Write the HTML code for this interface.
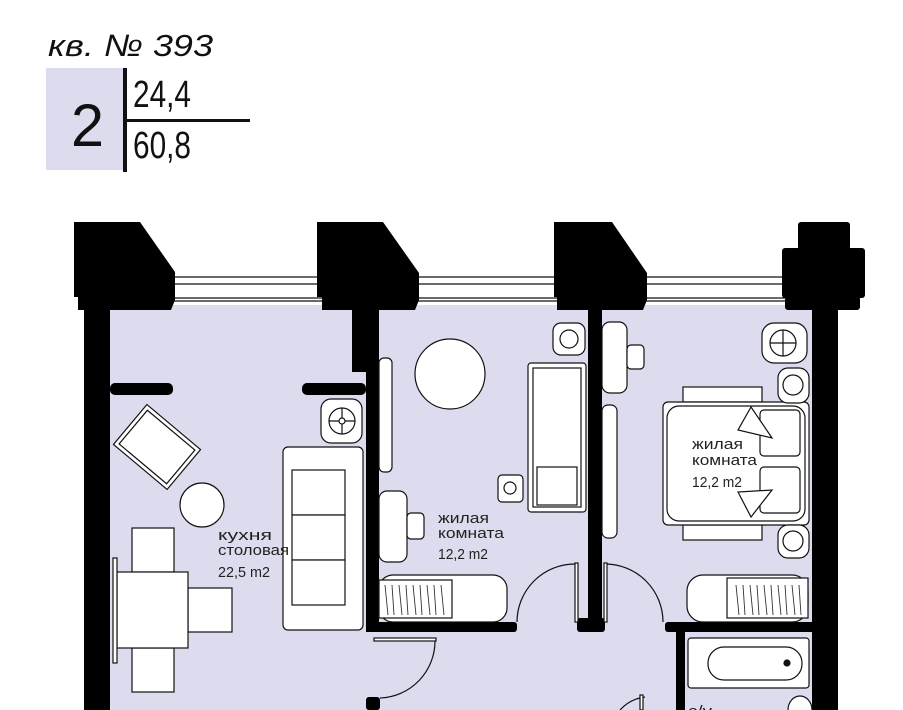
<!DOCTYPE html>
<html><head><meta charset="utf-8"><style>
html,body{margin:0;padding:0;background:#fff;}
svg{display:block;font-family:"Liberation Sans","Noto Sans CJK SC",sans-serif;}
</style></head><body>
<svg width="903" height="710" viewBox="0 0 903 710" xmlns="http://www.w3.org/2000/svg">
<text x="48" y="56" font-size="31" font-style="italic" fill="#111" textLength="165" lengthAdjust="spacingAndGlyphs">кв. № 393</text>
<rect x="46" y="68" width="77" height="102" fill="#dcdcee"/>
<rect x="123" y="68" width="4" height="104" fill="#111"/>
<rect x="127" y="119" width="123" height="3" fill="#111"/>
<text x="71" y="146" font-size="60" fill="#111" textLength="33" lengthAdjust="spacingAndGlyphs">2</text>
<text x="133" y="107" font-size="38" fill="#111" textLength="58" lengthAdjust="spacingAndGlyphs">24,4</text>
<text x="133" y="158" font-size="38" fill="#111" textLength="58" lengthAdjust="spacingAndGlyphs">60,8</text>

<rect x="108" y="305" width="706" height="405" fill="#dcdcee"/>

<g stroke="#111" fill="none" stroke-width="1.2">
<line x1="175" y1="277" x2="317" y2="277"/><line x1="175" y1="284" x2="317" y2="284"/>
<line x1="172" y1="298" x2="322" y2="298"/><line x1="172" y1="301" x2="322" y2="301"/>
<line x1="419" y1="277" x2="554" y2="277"/><line x1="419" y1="284" x2="554" y2="284"/>
<line x1="415" y1="298" x2="557" y2="298"/><line x1="415" y1="301" x2="557" y2="301"/>
<line x1="647" y1="277" x2="782" y2="277"/><line x1="647" y1="284" x2="782" y2="284"/>
<line x1="643" y1="298" x2="785" y2="298"/><line x1="643" y1="301" x2="785" y2="301"/>
</g>

<g fill="#000">
<polygon points="74,222 140,222 175,272 175,300 171,310 78,310 78,297 74,297"/>
<polygon points="317,222 383,222 419,273 419,300 415,310 322,310 322,297 317,297"/>
<polygon points="554,222 612,222 647,273 647,300 643,310 557,310 557,297 554,297"/>
<rect x="798" y="222" width="52" height="28" rx="3"/>
<rect x="782" y="248" width="83" height="50" rx="3"/>
<rect x="785" y="296" width="75" height="14" rx="3"/>
<rect x="84" y="305" width="26" height="405"/>
<rect x="812" y="305" width="26" height="405"/>
<rect x="352" y="305" width="27" height="67"/>
<rect x="366" y="305" width="13" height="327"/>
<rect x="110" y="383" width="63" height="12" rx="5"/>
<rect x="302" y="383" width="64" height="12" rx="5"/>
<rect x="588" y="305" width="14" height="317"/>
<rect x="577" y="618" width="28" height="14" rx="3"/>
<rect x="366" y="622" width="151" height="10" rx="3"/>
<rect x="665" y="622" width="150" height="10" rx="3"/>
<rect x="676" y="622" width="9" height="88"/>
<rect x="366" y="697" width="14" height="13" rx="3"/>
</g>

<g stroke="#111" stroke-width="1.2" fill="#fff">
<path d="M517,622 A58,58 0 0 1 575,564" fill="none"/>
<rect x="575" y="563" width="3" height="59"/>
<path d="M663,622 A58,58 0 0 0 605,564" fill="none"/>
<rect x="604" y="563" width="3" height="59"/>
<rect x="374" y="638" width="62" height="3"/>
<path d="M435,641 A57,57 0 0 1 380,698" fill="none"/>
<path d="M620,710 A40,40 0 0 1 645,697" fill="none"/>
<rect x="640" y="695" width="3" height="15"/>

<g transform="rotate(40 157 447)">
<rect x="122" y="421" width="70" height="52"/>
<rect x="126" y="425" width="62" height="44"/>
</g>
<circle cx="202" cy="505" r="22"/>
<rect x="132" y="528" width="42" height="44"/>
<rect x="132" y="648" width="42" height="44"/>
<rect x="188" y="588" width="44" height="44"/>
<rect x="117" y="572" width="71" height="76"/>
<rect x="113" y="558" width="4" height="105"/>
<rect x="283" y="447" width="80" height="183" rx="5"/>
<rect x="292" y="470" width="53" height="45"/>
<rect x="292" y="515" width="53" height="45"/>
<rect x="292" y="560" width="53" height="45"/>
<rect x="321" y="399" width="41" height="44" rx="10"/>
<circle cx="342" cy="421" r="13" fill="none"/>
<line x1="329" y1="421" x2="355" y2="421"/><line x1="342" y1="408" x2="342" y2="434"/>
<circle cx="342" cy="421" r="3"/>

<circle cx="450" cy="374" r="35"/>
<rect x="379" y="358" width="13" height="114" rx="5"/>
<rect x="379" y="491" width="28" height="71" rx="8"/>
<rect x="407" y="513" width="17" height="26" rx="4"/>
<rect x="528" y="363" width="58" height="149" rx="3"/>
<rect x="533" y="368" width="48" height="139"/>
<rect x="537" y="467" width="40" height="38"/>
<rect x="498" y="475" width="25" height="27" rx="4"/>
<circle cx="510" cy="488" r="6" fill="none"/>
<rect x="553" y="323" width="32" height="32" rx="8"/>
<circle cx="569" cy="339" r="9" fill="none"/>
<rect x="379" y="575" width="128" height="47" rx="14"/>
<rect x="379" y="580" width="73" height="38"/>

<rect x="602" y="322" width="25" height="71" rx="8"/>
<rect x="627" y="345" width="17" height="24" rx="4"/>
<rect x="602" y="405" width="15" height="133" rx="6"/>
<rect x="683" y="387" width="79" height="15"/>
<rect x="683" y="525" width="79" height="15"/>
<rect x="663" y="402" width="146" height="123" rx="5"/>
<rect x="667" y="406" width="138" height="115" rx="12"/>
<rect x="760" y="410" width="40" height="46" rx="4"/>
<rect x="760" y="467" width="40" height="46" rx="4"/>
<polygon points="751,407 738,430 772,438"/>
<polygon points="738,492 751,517 772,490"/>
<rect x="762" y="323" width="45" height="40" rx="12"/>
<circle cx="783" cy="343" r="13" fill="none"/>
<line x1="770" y1="343" x2="796" y2="343"/><line x1="783" y1="330" x2="783" y2="356"/>
<rect x="778" y="368" width="31" height="35" rx="10"/>
<circle cx="793" cy="385" r="10" fill="none"/>
<rect x="778" y="525" width="31" height="33" rx="10"/>
<circle cx="793" cy="541" r="10" fill="none"/>
<rect x="687" y="575" width="121" height="47" rx="16"/>
<rect x="727" y="578" width="81" height="40"/>
<rect x="688" y="638" width="121" height="50" rx="3"/>
<rect x="708" y="647" width="94" height="33" rx="16"/>
<circle cx="787" cy="663" r="3" fill="#111"/>
<ellipse cx="800" cy="710" rx="12" ry="14"/>
</g>
<g stroke="#333" stroke-width="0.9">
<path d="M385,585 l3,30 M392,585 l2,30 M399,585 l3,30 M406,585 l2,30 M413,585 l3,30 M420,585 l2,30 M427,585 l3,30 M434,585 l2,30 M441,585 l3,30"/>
<path d="M736,585 l3,30 M743,585 l2,30 M750,585 l3,30 M757,585 l2,30 M764,585 l3,30 M771,585 l2,30 M778,585 l3,30 M785,585 l2,30 M792,585 l3,30 M799,585 l2,30"/>
</g>

<g font-size="15" fill="#222">
<text x="218" y="540" textLength="54" lengthAdjust="spacingAndGlyphs">кухня</text>
<text x="218" y="555" textLength="71" lengthAdjust="spacingAndGlyphs">столовая</text>
<text x="218" y="577" textLength="52" lengthAdjust="spacingAndGlyphs">22,5 m2</text>
<text x="438" y="523" textLength="51" lengthAdjust="spacingAndGlyphs">жилая</text>
<text x="438" y="538" textLength="66" lengthAdjust="spacingAndGlyphs">комната</text>
<text x="438" y="559" textLength="50" lengthAdjust="spacingAndGlyphs">12,2 m2</text>
<text x="692" y="449" textLength="51" lengthAdjust="spacingAndGlyphs">жилая</text>
<text x="692" y="465" textLength="65" lengthAdjust="spacingAndGlyphs">комната</text>
<text x="692" y="487" textLength="50" lengthAdjust="spacingAndGlyphs">12,2 m2</text>
<text x="688" y="716" textLength="24" lengthAdjust="spacingAndGlyphs">с/у</text>
</g>
</svg>
</body></html>
